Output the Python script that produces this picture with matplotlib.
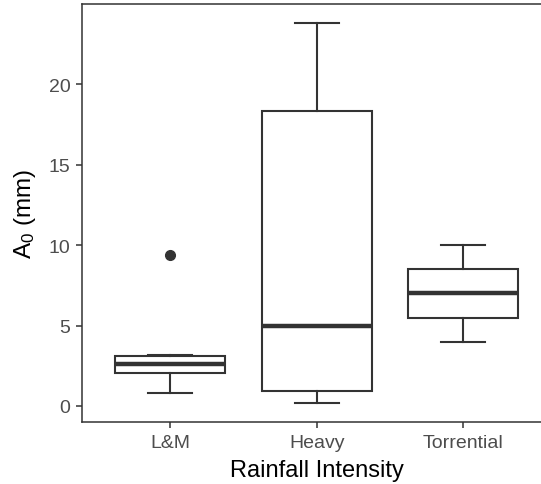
import matplotlib
matplotlib.use("Agg")
import matplotlib.pyplot as plt

plt.rcParams['font.family'] = ['Liberation Sans', 'DejaVu Sans']
plt.rcParams['mathtext.fontset'] = 'custom'
plt.rcParams['mathtext.rm'] = 'Liberation Sans'
plt.rcParams['mathtext.it'] = 'Liberation Sans'

# box statistics
categories = ["L&M", "Heavy", "Torrential"]
whislo = [0.83, 0.2, 4.0]
q1 = [2.02, 0.91, 5.5]
med = [2.6, 5.0, 7.0]
q3 = [3.08, 18.37, 8.5]
whishi = [3.18, 23.8, 10.0]
fliers = [[9.4], [], []]

stats = []
for i in range(len(categories)):
    stats.append(dict(label=categories[i], whislo=whislo[i], q1=q1[i], med=med[i],
                      q3=q3[i], whishi=whishi[i], fliers=fliers[i]))

W, H = 541, 485
fig = plt.figure(figsize=(W / 100, H / 100), dpi=100)
# panel extends slightly past the right edge like the reference
ax = fig.add_axes([82.3 / W, 1 - 422.7 / H, (551.4 - 82.3) / W, (422.7 - 5.3) / H])

dark = '#333333'
ax.bxp(stats, positions=[1, 2, 3], widths=0.75, capwidths=0.3,
       patch_artist=True,
       boxprops=dict(facecolor='white', edgecolor=dark, linewidth=1.5),
       medianprops=dict(color=dark, linewidth=3.2, solid_capstyle='butt'),
       whiskerprops=dict(color=dark, linewidth=1.5),
       capprops=dict(color=dark, linewidth=1.5),
       flierprops=dict(marker='o', markerfacecolor=dark, markeredgecolor=dark,
                       markersize=7))

ax.set_xlim(0.4, 3.6)
ax.set_ylim(-0.98, 24.98)
ax.set_yticks([0, 5, 10, 15, 20])
ax.set_xticks([1, 2, 3])
ax.set_xticklabels(categories)

for s in ax.spines.values():
    s.set_color(dark)
    s.set_linewidth(1.1)
ax.tick_params(axis='both', colors=dark, length=4.5, width=1.1,
               labelsize=14, labelcolor='#4d4d4d', pad=4)

ax.set_xlabel("Rainfall Intensity", fontsize=17, color='black', labelpad=6)
ax.set_ylabel("A$_0$ (mm)", fontsize=17.5, color='black', labelpad=8)

fig.savefig("out.png", dpi=100)
